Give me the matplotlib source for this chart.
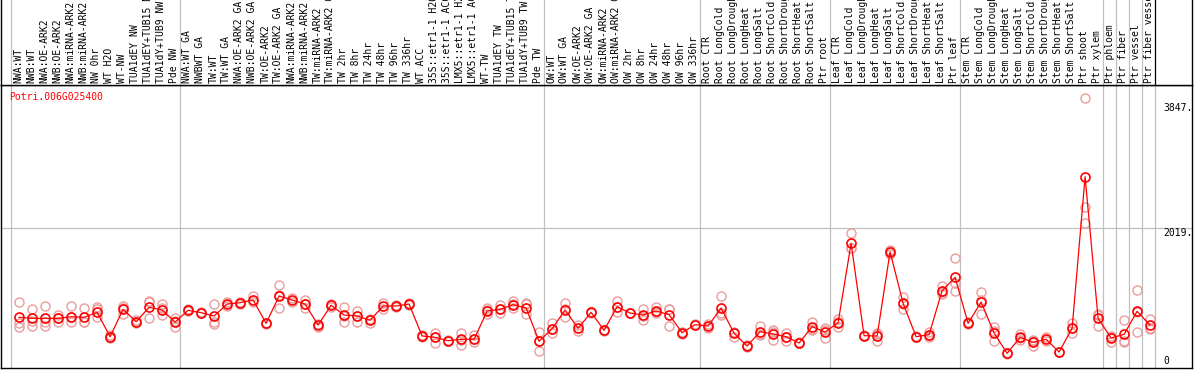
import numpy as np
import matplotlib
matplotlib.use('Agg')
import matplotlib.pyplot as plt

# sample names, one per column
labels = ['NWA:WT', 'NWB:WT', 'NWA:OE-ARK2', 'NWB:OE-ARK2', 'NWA:miRNA-ARK2', 'NWB:miRNA-ARK2',
          'NW 0hr', 'WT H2O', 'WT-NW', 'TUA1dEY NW', 'TUA1dEY+TUB15 NW', 'TUA1dY+TUB9 NW', 'Pde NW',
          'NWA:WT GA', 'NWBWT GA', 'TW:WT', 'TW:WT GA', 'NWA:OE-ARK2 GA', 'NWB:OE-ARK2 GA',
          'TW:OE-ARK2', 'TW:OE-ARK2 GA', 'NWA:miRNA-ARK2', 'NWB:miRNA-ARK2', 'TW:miRNA-ARK2',
          'TW:miRNA-ARK2 GA', 'TW 2hr', 'TW 8hr', 'TW 24hr', 'TW 48hr', 'TW 96hr', 'TW 336hr',
          'WT ACC', '35S::etr1-1 H2O', '35S::etr1-1 ACC', 'LMX5::etr1-1 H2O', 'LMX5::etr1-1 ACC',
          'WT-TW', 'TUA1dEY TW', 'TUA1dEY+TUB15 TW', 'TUA1dY+TUB9 TW', 'Pde TW',
          'OW:WT', 'OW:WT GA', 'OW:OE-ARK2', 'OW:OE-ARK2 GA', 'OW:miRNA-ARK2', 'OW:miRNA-ARK2 GA',
          'OW 2hr', 'OW 8hr', 'OW 24hr', 'OW 48hr', 'OW 96hr', 'OW 336hr',
          'Root CTR', 'Root LongCold', 'Root LongDrought', 'Root LongHeat', 'Root LongSalt',
          'Root ShortCold', 'Root ShortDrought', 'Root ShortHeat', 'Root ShortSalt', 'Ptr root',
          'Leaf CTR', 'Leaf LongCold', 'Leaf LongDrought', 'Leaf LongHeat', 'Leaf LongSalt',
          'Leaf ShortCold', 'Leaf ShortDrought', 'Leaf ShortHeat', 'Leaf ShortSalt', 'Ptr leaf',
          'Stem CTR', 'Stem LongCold', 'Stem LongDrought', 'Stem LongHeat', 'Stem LongSalt',
          'Stem ShortCold', 'Stem ShortDrought', 'Stem ShortHeat', 'Stem ShortSalt', 'Ptr shoot',
          'Ptr xylem', 'Ptr phloem', 'Ptr fiber', 'Ptr vessel', 'Ptr fiber vessel']

means = [712, 697, 697, 697, 721, 712, 785, 428, 829, 648, 858, 819, 643,
         814, 780, 731, 906, 926, 965, 624, 1023, 965, 906, 599, 887, 745, 731, 668, 877, 877, 906,
         439, 419, 370, 390, 390, 804, 829, 896, 848, 361,
         546, 819, 551, 785, 522, 867, 775, 745, 804, 750, 487, 604,
         585, 848, 478, 292, 502, 468, 429, 336, 575, 497,
         633, 1794, 443, 439, 1671, 916, 429, 458, 1101, 1296,
         624, 936, 482, 185, 419, 346, 390, 205, 551, 2768,
         697, 409, 463, 800, 595]

reps = [[931, 633, 570], [833, 662, 589], [877, 648, 589], [750, 648, 700], [877, 648, 721],
        [843, 648, 650], [858, 721, 840], [450, 410, 428], [843, 755, 880], [670, 625, 650],
        [955, 697, 930], [906, 745, 850], [697, 575, 660],
        [830, 800], [790, 770], [906, 648, 614], [941, 880], [941, 910], [1023, 930], [630, 615],
        [1184, 848, 1040], [1000, 930], [965, 843, 910], [620, 575], [906, 870], [858, 648, 730],
        [811, 648, 735], [690, 630], [829, 925], [890, 865], [915, 895],
        [450, 430], [487, 341, 430], [380, 360], [480, 307, 385], [460, 350, 390],
        [843, 755, 815], [887, 770, 830], [945, 843, 900], [926, 755, 900], [502, 215, 366],
        [624, 480, 540], [916, 712, 830], [600, 510], [790, 780], [530, 515], [945, 785, 870],
        [780, 770], [833, 668, 735], [867, 770, 790], [838, 585, 830], [500, 465], [610, 600],
        [620, 550], [1023, 773, 750], [500, 430], [300, 285], [585, 458, 470], [526, 380, 500],
        [487, 370, 430], [350, 331], [648, 545, 530], [551, 405, 530],
        [682, 566, 650], [1940, 1721, 1720], [450, 435], [478, 361, 475], [1637, 1700, 1676],
        [1004, 838, 906], [435, 425], [500, 420, 455], [1170, 1053, 1080], [1574, 1101, 1218],
        [610, 640], [1082, 756, 970], [566, 370, 510], [190, 180], [468, 380, 410],
        [380, 292, 366], [420, 370], [210, 200], [624, 478, 551], [3914, 2320, 2086],
        [745, 589, 757], [440, 356, 430], [672, 361, 356], [1111, 497, 792], [692, 536, 557]]

group_edges = [0, 13, 41, 53, 63, 73, 84, 85, 86, 87, 88]
gene = 'Potri.006G025400'
ytick_vals = [3847, 2019, 0]
ytick_text = ['3847.', '2019.', '0']

W, H = 1194, 370
mono = 'DejaVu Sans Mono'
grid_c = '#c0c0c0'

def px2col(px):
    # image pixel x -> column units (column i spans i..i+1)
    return (px - 11.3) / 13.0

fig = plt.figure(figsize=(W / 100, H / 100), dpi=100)

# plot area
ax = fig.add_axes([1 / W, 2 / H, 1191 / W, 283 / H])
ax.set_xlim(px2col(1), px2col(1192))
ax.set_ylim(-29.2, 4109)
ax.set_xticks([])
ax.set_yticks([])
for s in ax.spines.values():
    s.set_linewidth(1.0)
    s.set_color('black')

for e in group_edges:
    ax.axvline(e, color=grid_c, lw=0.9, zorder=0)
ax.axhline(2019, color=grid_c, lw=0.9, zorder=0)

x = np.arange(len(labels)) + 0.6
for xi, r in zip(x, reps):
    ax.plot([xi] * len(r), r, 'o', mfc='none', mec='#eb9c9c', ms=6.5, mew=1.0, zorder=2)
ax.plot(x, means, '-', color='red', lw=0.9, zorder=3)
ax.plot(x, means, 'o', mfc='none', mec='red', ms=6.5, mew=1.2, zorder=4)

ax.text(px2col(9.5), 3934, gene, color='red', fontsize=7, family=mono, ha='left', va='center')

for v, t in zip(ytick_vals, ytick_text):
    ax.text(px2col(1163), v, t, fontsize=7, family=mono, ha='left',
            va='bottom' if v == 0 else 'top')

# header with sample names
hax = fig.add_axes([1 / W, 285 / H, 1191 / W, 85 / H])
hax.set_xlim(px2col(1), px2col(1192))
hax.set_ylim(85, 0)
hax.set_xticks([])
hax.set_yticks([])
hax.spines['top'].set_visible(False)
for s in ['left', 'right', 'bottom']:
    hax.spines[s].set_linewidth(1.0)
for e in group_edges:
    hax.axvline(e, color='black' if e == 88 else grid_c, lw=0.9, zorder=0)

for xi, lab in zip(x, labels):
    hax.text(xi - 0.05, 83, lab, rotation=90, ha='center', va='bottom', fontsize=7,
             family=mono, clip_on=True)

fig.savefig('out.png', dpi=100)
